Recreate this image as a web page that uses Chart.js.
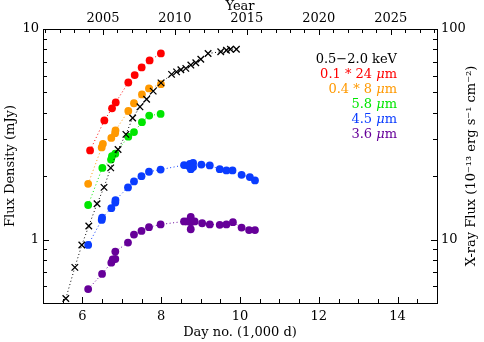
<!DOCTYPE html>
<html>
<head>
<meta charset="utf-8">
<script src="https://cdn.jsdelivr.net/npm/chart.js@4.4.1/dist/chart.umd.min.js"></script>
<style>
  body { margin: 0; background: #fff; }
</style>
</head>
<body>
<canvas id="grafico" width="484" height="342"></canvas>
<script>
// values: days in thousands, flux density in mJy
const xrayDays = [5.579, 5.808, 5.985, 6.162, 6.372, 6.549, 6.719, 6.905, 7.104, 7.276, 7.461, 7.630, 7.797, 7.995,
  8.263, 8.390, 8.499, 8.625, 8.752, 8.878, 9.005, 9.190, 9.511, 9.656, 9.757, 9.909];
// x-ray flux in 1e-13 erg s-1 cm-2 (right axis)
const xrayFlux = [5.25, 7.38, 9.43, 11.6, 14.8, 17.7, 21.9, 26.8, 31.6, 37.8, 42.7, 46.4, 50.7, 55.5,
  60.9, 62.6, 64.0, 65.0, 67.4, 69.1, 71.9, 76.5, 78.0, 79.2, 80.2, 80.2];

const days24 = [6.195, 6.557, 6.752, 6.846, 7.165, 7.327, 7.504, 7.706, 7.992];
const flux24 = [2.65, 3.68, 4.20, 4.48, 5.57, 6.04, 6.57, 7.09, 7.66];

const days8 = [6.146, 6.49, 6.52, 6.734, 6.83, 6.84, 7.165, 7.309, 7.511, 7.689, 7.992];
const flux8 = [1.84, 2.74, 2.85, 3.04, 3.20, 3.30, 4.08, 4.44, 4.89, 5.22, 5.47];

const days58 = [6.146, 6.506, 6.727, 6.75, 6.835, 7.165, 7.309, 7.511, 7.696, 7.985];
const flux58 = [1.46, 2.19, 2.40, 2.49, 2.56, 3.08, 3.24, 3.61, 3.88, 3.95];

const days45 = [6.146, 6.49, 6.50, 6.734, 6.835, 6.84, 7.157, 7.309, 7.50, 7.69, 7.985, 8.58, 8.69, 8.727, 8.752,
  8.81, 8.81, 9.02, 9.233, 9.486, 9.655, 9.81, 10.04, 10.25, 10.38];
const flux45 = [0.943, 1.24, 1.27, 1.41, 1.50, 1.54, 1.77, 1.89, 2.00, 2.10, 2.15, 2.26, 2.24, 2.29, 2.16,
  2.31, 2.21, 2.27, 2.25, 2.16, 2.13, 2.13, 2.03, 1.98, 1.91];

const days36 = [6.146, 6.499, 6.734, 6.769, 6.835, 6.835, 7.157, 7.309, 7.50, 7.69, 7.985, 8.58, 8.66, 8.75, 8.75,
  8.75, 8.85, 9.04, 9.233, 9.486, 9.655, 9.82, 10.04, 10.23, 10.38];
const flux36 = [0.582, 0.687, 0.777, 0.805, 0.809, 0.877, 0.968, 1.056, 1.10, 1.145, 1.18, 1.22, 1.22, 1.28, 1.21,
  1.12, 1.22, 1.196, 1.18, 1.175, 1.18, 1.21, 1.14, 1.11, 1.11];

const legendLabels = ['0.5\u22122.0 keV', '0.1 * 24 \u03bcm', '0.4 * 8 \u03bcm', '5.8 \u03bcm', '4.5 \u03bcm', '3.6 \u03bcm'];
const legendColors = ['#000000', '#ff0000', '#ff9900', '#00e600', '#0a3cff', '#660099'];

// axis ticks
const dayTicks = [5, 6, 7, 8, 9, 10, 11, 12, 13, 14, 15];
const dayTickLabels = ['', '6', '', '8', '', '10', '', '12', '', '14', ''];
const yearTicks = [2005, 2010, 2015, 2020, 2025];
const fluxTicks = [1, 10];
const xrayTicks = [10, 100];
const xrayTitle = 'X-ray Flux (10\u207b\u00b9\u00b3 erg s\u207b\u00b9 cm\u207b\u00b2)';

// day 0 = 1987 Feb 23
const anoZero = 1987.146;
const diaParaAno = d => anoZero + d * 1000 / 365.25;

const fonte = { family: 'DejaVu Serif', size: 13 };

function pontos(xs, ys) {
  return xs.map((x, i) => ({ x: x, y: ys[i] }));
}

function serie(label, xs, ys, cor) {
  return {
    label: label,
    data: pontos(xs, ys),
    yAxisID: 'y',
    showLine: true,
    borderColor: cor,
    borderWidth: 1,
    borderDash: [1, 2.5],
    pointStyle: 'circle',
    pointRadius: 3.9,
    pointBorderWidth: 0,
    pointBackgroundColor: cor
  };
}

// small inward ticks on all four sides + right title read bottom to top
const ticksInternos = {
  id: 'ticksInternos',
  afterDraw(chart) {
    const { ctx, chartArea: a, scales } = chart;
    ctx.save();
    ctx.setLineDash([]);
    ctx.strokeStyle = '#000';
    ctx.lineWidth = 1;
    ctx.beginPath();
    for (let d = 5.5; d < 15; d += 0.5) {
      const x = Math.round(scales.x.getPixelForValue(d)) + 0.5;
      const len = (d % 2 === 0) ? 6 : 4;
      ctx.moveTo(x, a.bottom); ctx.lineTo(x, a.bottom - len);
    }
    for (let ano = 2001; ano <= 2028; ano++) {
      const x = Math.round(scales.x2.getPixelForValue(ano)) + 0.5;
      const len = (ano % 5 === 0) ? 6 : 4;
      ctx.moveTo(x, a.top); ctx.lineTo(x, a.top + len);
    }
    const esq = [0.6, 0.7, 0.8, 0.9, 1, 2, 3, 4, 5, 6, 7, 8, 9];
    esq.forEach(v => {
      const y = Math.round(scales.y.getPixelForValue(v)) + 0.5;
      const len = v === 1 ? 6 : 4;
      ctx.moveTo(a.left, y); ctx.lineTo(a.left + len, y);
    });
    const dir = [6, 7, 8, 9, 10, 20, 30, 40, 50, 60, 70, 80, 90];
    dir.forEach(v => {
      const y = Math.round(scales.y2.getPixelForValue(v)) + 0.5;
      const len = v === 10 ? 6 : 4;
      ctx.moveTo(a.right, y); ctx.lineTo(a.right - len, y);
    });
    ctx.stroke();

    ctx.fillStyle = '#000';
    ctx.font = '13px "DejaVu Serif"';
    ctx.textAlign = 'center';
    ctx.textBaseline = 'middle';
    ctx.translate(472, (a.top + a.bottom) / 2);
    ctx.rotate(-Math.PI / 2);
    ctx.fillText(xrayTitle, 0, 0);
    ctx.restore();
  }
};

// text legend, right aligned, mu in italics
const legendaTexto = {
  id: 'legendaTexto',
  afterDraw(chart) {
    const { ctx } = chart;
    const normal = '13px "DejaVu Serif"';
    const italico = 'italic 13px "DejaVu Serif"';
    const xDir = 397;
    ctx.save();
    ctx.textBaseline = 'middle';
    ctx.textAlign = 'left';
    legendLabels.forEach((txt, i) => {
      const y = 60 + i * 15;
      const partes = [];
      const idx = txt.indexOf('\u03bc');
      if (idx >= 0) {
        partes.push({ t: txt.slice(0, idx), f: normal });
        partes.push({ t: '\u03bc', f: italico });
        partes.push({ t: txt.slice(idx + 1), f: normal });
      } else {
        partes.push({ t: txt, f: normal });
      }
      let total = 0;
      partes.forEach(p => { ctx.font = p.f; p.w = ctx.measureText(p.t).width; total += p.w; });
      let x = xDir - total;
      ctx.fillStyle = legendColors[i];
      partes.forEach(p => { ctx.font = p.f; ctx.fillText(p.t, x, y); x += p.w; });
    });
    ctx.restore();
  }
};

const ctx = document.getElementById('grafico');

new Chart(ctx, {
  type: 'scatter',
  data: {
    datasets: [
      {
        label: legendLabels[0],
        data: pontos(xrayDays, xrayFlux),
        yAxisID: 'y2',
        showLine: true,
        borderColor: '#000',
        borderWidth: 1,
        borderDash: [1, 2.5],
        pointStyle: 'crossRot',
        pointRadius: 4.6,
        pointBorderWidth: 1.3,
        pointBorderColor: '#000'
      },
      serie(legendLabels[1], days24, flux24, legendColors[1]),
      serie(legendLabels[2], days8, flux8, legendColors[2]),
      serie(legendLabels[3], days58, flux58, legendColors[3]),
      serie(legendLabels[4], days45, flux45, legendColors[4]),
      serie(legendLabels[5], days36, flux36, legendColors[5])
    ]
  },
  options: {
    responsive: false,
    animation: false,
    layout: { padding: 0 },
    plugins: {
      legend: { display: false },
      tooltip: { enabled: false }
    },
    scales: {
      x: {
        type: 'linear',
        position: 'bottom',
        min: 5,
        max: 15,
        afterFit: s => { s.height = 39; },
        afterBuildTicks: s => { s.ticks = dayTicks.map(v => ({ value: v })); },
        grid: { display: false, drawTicks: false },
        border: { display: true, color: '#000', width: 1 },
        ticks: {
          autoSkip: false, maxRotation: 0, padding: 6, color: '#000', font: fonte,
          callback: (v, i) => dayTickLabels[i]
        },
        title: { display: true, text: 'Day no. (1,000 d)', color: '#000', font: fonte, padding: 2 }
      },
      x2: {
        type: 'linear',
        position: 'top',
        min: diaParaAno(5),
        max: diaParaAno(15),
        afterFit: s => { s.height = 29; },
        afterBuildTicks: s => { s.ticks = yearTicks.map(v => ({ value: v })); },
        grid: { display: false, drawTicks: false },
        border: { display: true, color: '#000', width: 1 },
        ticks: { autoSkip: false, maxRotation: 0, padding: 3, color: '#000', font: fonte,
          callback: v => String(v) },
        title: { display: true, text: 'Year', color: '#000', font: { family: 'DejaVu Serif', size: 13, lineHeight: 1 }, padding: 0 }
      },
      y: {
        type: 'logarithmic',
        position: 'left',
        min: 0.5,
        max: 10,
        afterFit: s => { s.width = 43; },
        afterBuildTicks: s => { s.ticks = fluxTicks.map(v => ({ value: v })); },
        grid: { display: false, drawTicks: false },
        border: { display: true, color: '#000', width: 1 },
        ticks: { autoSkip: false, padding: 4, color: '#000', font: fonte, callback: v => String(v) },
        title: { display: true, text: 'Flux Density (mJy)', color: '#000', font: fonte, padding: 3 }
      },
      y2: {
        type: 'logarithmic',
        position: 'right',
        min: 5,
        max: 100,
        afterFit: s => { s.width = 47; },
        afterBuildTicks: s => { s.ticks = xrayTicks.map(v => ({ value: v })); },
        grid: { display: false, drawTicks: false },
        border: { display: true, color: '#000', width: 1 },
        ticks: { autoSkip: false, padding: 4, color: '#000', font: fonte, callback: v => String(v) },
        title: { display: false }
      }
    }
  },
  plugins: [ticksInternos, legendaTexto]
});
</script>
</body>
</html>
